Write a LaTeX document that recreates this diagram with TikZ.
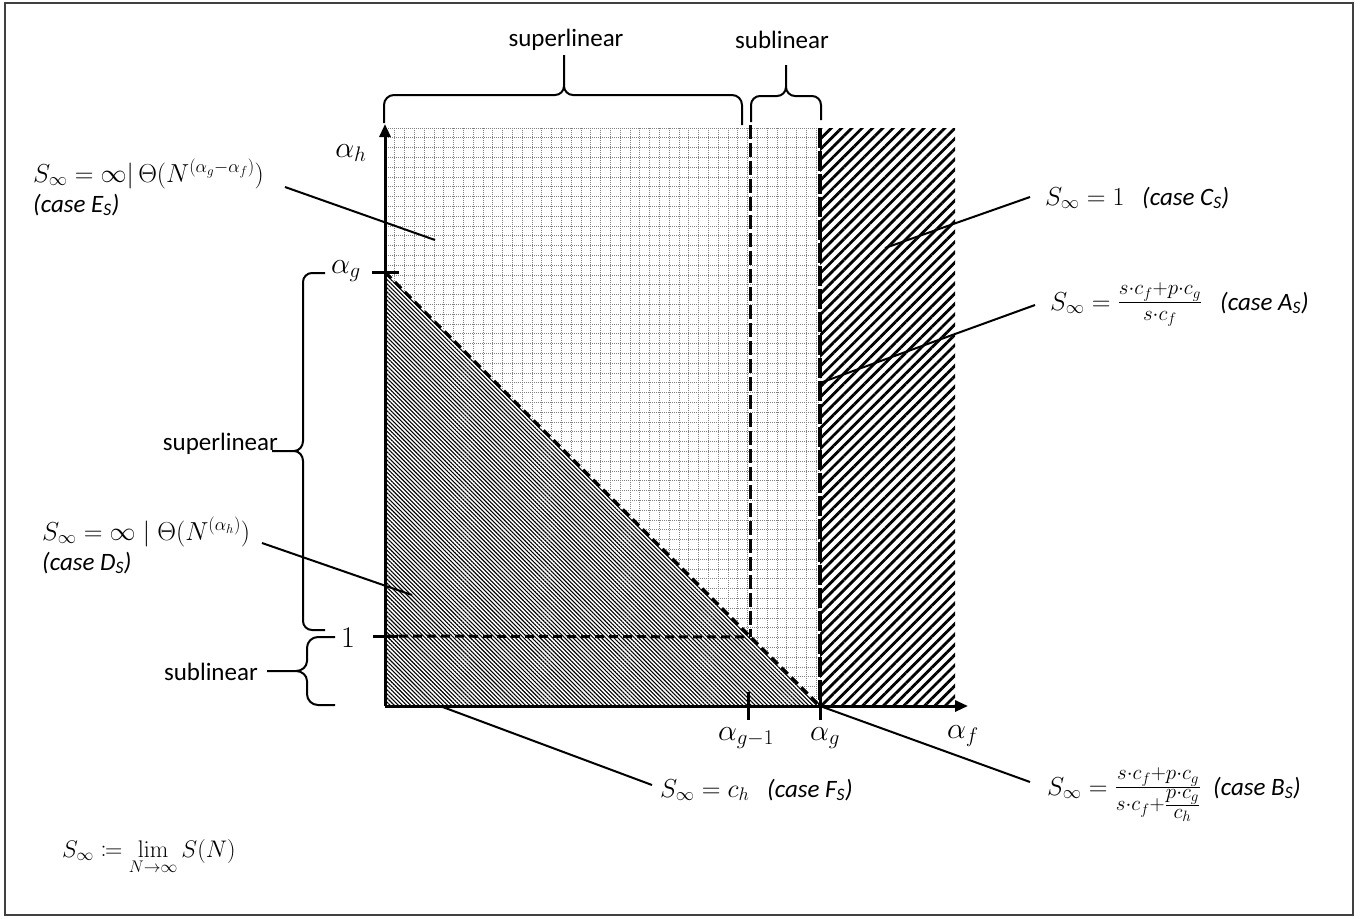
\RequirePackage{fix-cm}
\documentclass[tikz,border=0pt]{standalone}
\usepackage{amsmath}
\usepackage[no-math]{fontspec}
\setmainfont{Carlito}
\usetikzlibrary{patterns.meta,arrows.meta}
\newcommand{\casetxt}[2]{{\fontsize{25}{30}\selectfont\itshape (case #1\textsubscript{#2})}}
\newcommand{\mycoloneq}{\mathrel{\vcenter{\hbox{$:$}}\mkern-1.2mu{=}}}
\newcommand{\bigfrac}[2]{\mbox{\fontsize{30}{36}\selectfont$\frac{#1}{#2}$}}
\begin{document}
\begin{tikzpicture}[x=1pt,y=-1pt,
  txt/.style={font=\fontsize{25}{30}\selectfont, inner sep=0pt},
  mth/.style={font=\fontsize{26}{31}\selectfont, inner sep=0pt},
  axl/.style={font=\fontsize{30}{36}\selectfont, inner sep=0pt},
  axisline/.style={line width=3pt, -{Triangle[length=13pt,width=11pt]}},
  tickline/.style={line width=3pt},
  bracel/.style={line width=2pt, line join=round},
  leader/.style={line width=2pt},
  dashA/.style={line width=3pt, dash pattern=on 9pt off 5pt},
  dashV/.style={line width=3pt, dash pattern=on 14pt off 4pt},
  dashW/.style={line width=3.5pt, dash pattern=on 20pt off 3pt},
  gridline/.style={black!50, line width=0.8pt, dash pattern=on 1pt off 1pt},
  finehatch/.style={pattern={Lines[angle=-45,distance=2.9pt,line width=1.1pt]}},
  coarsehatch/.style={pattern={Lines[angle=45,distance=7.3pt,line width=2.8pt]}}
]
\useasboundingbox (0,0) rectangle (1370,918);
\draw[black!75, line width=1.5pt] (5,3) rectangle (1353,915);

% key coordinates
\coordinate (O) at (385,706);
\coordinate (ytip) at (385,124);
\coordinate (xtip) at (968,706);
\coordinate (ag) at (385,272);
\coordinate (one) at (385,636);
\coordinate (xg1) at (750,706);
\coordinate (xg) at (820,706);
\coordinate (corner) at (750,637);
\coordinate (topg1) at (750,125);
\coordinate (topg) at (820,128);

% regions
\fill[finehatch] (ag) -- (xg) -- (O) -- cycle;
\begin{scope}
  \clip (385,128) -- (820,128) -- (820,706) -- (385,272) -- cycle;
  \foreach \k in {0,...,45} \draw[gridline] ({385+9.8*\k},120) -- ({385+9.8*\k},720);
  \foreach \k in {0,...,60} \draw[gridline] (380,{128+9.8*\k}) -- (830,{128+9.8*\k});
\end{scope}
\fill[coarsehatch] (820,128) rectangle (955,706);

% dashed boundaries
\draw[dashA] (ag) -- (xg);
\draw[dashA] (one) -- (corner);
\draw[dashV] (topg1) -- (corner);
\draw[dashW] (topg) -- (xg);

% axes
\draw[axisline] (O) -- (ytip);
\draw[axisline] (O) -- (xtip);

% ticks
\draw[tickline] (372,272) -- (399,272);
\draw[tickline] (373,636) -- (398,636);
\draw[tickline] (748,692) -- (748,720);
\draw[tickline] (820,694) -- (820,720);

% axis labels
\node[axl, anchor=base] (lah) at (351,157) {$\alpha_h$};
\node[axl, anchor=base east] (lag) at (361,273) {$\alpha_g$};
\node[axl, anchor=base] (l1) at (348,647) {$1$};
\node[axl, anchor=base] (lag1) at (746,740) {$\alpha_{g-1}$};
\node[axl, anchor=base] (lagx) at (825,740) {$\alpha_g$};
\node[axl, anchor=base] (laf) at (963,738) {$\alpha_f$};

% top braces
\draw[bracel] (384,123) -- (384,105) to[out=90,in=180] (394,95) -- (555,95)
  to[out=0,in=-90] (564,86) -- (564,55)
  (564,86) to[out=-90,in=180] (573,95) -- (732,95) to[out=0,in=90] (742,105) -- (742,125);
\draw[bracel] (751,122) -- (751,105) to[out=90,in=180] (760,96) -- (777,96)
  to[out=0,in=-90] (786,87) -- (786,65)
  (786,87) to[out=-90,in=180] (795,96) -- (812,96) to[out=0,in=90] (821,105) -- (821,120);
\node[txt, anchor=base] (tsup) at (566,46) {superlinear};
\node[txt, anchor=base] (tsub) at (782,48) {sublinear};

% left braces
\draw[bracel] (325,273) -- (312,273) to[out=180,in=90] (303,282) -- (303,441)
  to[out=-90,in=0] (294,451) -- (272,451)
  (294,451) to[out=0,in=90] (303,461) -- (303,621) to[out=-90,in=180] (312,630) -- (325,630);
\draw[bracel] (335,637) -- (318,637) to[out=180,in=90] (307,648) -- (307,661)
  to[out=-90,in=0] (296,671) -- (267,671)
  (296,671) to[out=0,in=90] (307,681) -- (307,694) to[out=-90,in=180] (318,705) -- (335,705);
\node[txt, anchor=base east] (lsup) at (278,450) {superlinear};
\node[txt, anchor=base east] (lsub) at (258,680) {sublinear};

% case labels
\node[mth, anchor=base west] (lE) at (33,182) {$S_\infty = \infty|\,\Theta(N^{(\alpha_g-\alpha_f)})$};
\node[mth, anchor=base west] (lE2) at (33,212) {\casetxt{E}{S}};
\node[mth, anchor=base west] (lD) at (42,540) {$S_\infty = \infty \mid \Theta(N^{(\alpha_h)})$};
\node[mth, anchor=base west] (lD2) at (42,570) {\casetxt{D}{S}};
\node[mth, anchor=base west] (lC) at (1045,205) {$S_\infty = 1$};
\node[mth, anchor=base west] (lC2) at (1142,205) {\casetxt{C}{S}};
\node[mth, anchor=base west] (lA) at (1050,310) {$S_\infty = \bigfrac{s\cdot c_f+p\cdot c_g}{s\cdot c_f}$};
\node[mth, anchor=base west] (lA2) at (1220,310) {\casetxt{A}{S}};
\node[mth, anchor=base west] (lB) at (1047,795) {$S_\infty = \bigfrac{s\cdot c_f+p\cdot c_g}{s\cdot c_f+\frac{\scriptstyle p\cdot c_g}{\scriptstyle c_h}}$};
\node[mth, anchor=base west] (lB2) at (1213,795) {\casetxt{B}{S}};
\node[mth, anchor=base west] (lF) at (660,797) {$S_\infty = c_h$};
\node[mth, anchor=base west] (lF2) at (767,797) {\casetxt{F}{S}};
\node[mth, anchor=base west, font=\fontsize{24}{29}\selectfont] (ldef) at (62,857) {$\displaystyle S_\infty \mycoloneq \lim_{N\to\infty} S(N)$};

% leaders
\coordinate (eE1) at (285,187); \coordinate (eE2) at (435,240);
\coordinate (eD1) at (262,543); \coordinate (eD2) at (412,595);
\coordinate (eC1) at (1030,197); \coordinate (eC2) at (885,248);
\coordinate (eA1) at (1035,305); \coordinate (eA2) at (820,383);
\coordinate (eB1) at (1030,782);
\coordinate (eF1) at (652,785); \coordinate (eF2) at (440,706);
\draw[leader] (eE1) -- (eE2);
\draw[leader] (eD1) -- (eD2);
\draw[leader] (eC1) -- (eC2);
\draw[leader] (eA1) -- (eA2);
\draw[leader] (eB1) -- (xg);
\draw[leader] (eF1) -- (eF2);
\end{tikzpicture}
\end{document}
